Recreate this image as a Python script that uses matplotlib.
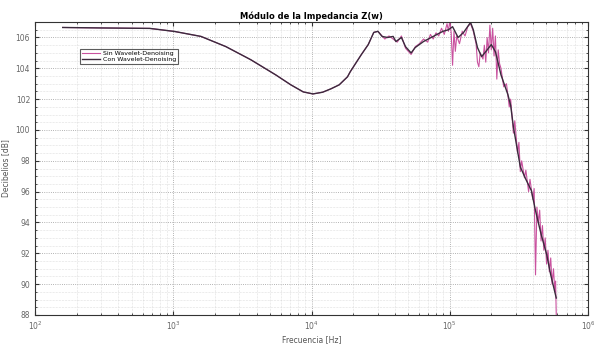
import numpy as np
import matplotlib.pyplot as plt
from matplotlib.ticker import LogLocator, MultipleLocator

# log10 of frequency [Hz] and module [dB], filtered response
con_logf = [2.20, 2.47, 2.83, 3.01, 3.20, 3.38, 3.56, 3.74, 3.85, 3.94, 4.01,
            4.08, 4.14, 4.20, 4.26, 4.28, 4.36, 4.41, 4.45, 4.48, 4.51, 4.55,
            4.59, 4.61, 4.65, 4.68, 4.72, 4.75, 4.81, 4.88, 4.95, 4.99, 5.02,
            5.06, 5.10, 5.15, 5.17, 5.20, 5.23, 5.26, 5.30, 5.33, 5.37, 5.42,
            5.44, 5.46, 5.51, 5.55, 5.59, 5.62, 5.66, 5.70, 5.73, 5.77]
con_db = [106.65, 106.62, 106.59, 106.39, 106.07, 105.41, 104.56, 103.58,
          102.93, 102.47, 102.34, 102.45, 102.67, 102.93, 103.45, 103.78,
          104.89, 105.54, 106.33, 106.40, 106.07, 106.00, 106.07, 105.74,
          106.00, 105.40, 105.00, 105.35, 105.74, 106.07, 106.40, 106.50,
          106.70, 106.00, 106.33, 106.98, 106.50, 105.35, 104.76, 105.08,
          105.54, 105.08, 103.58, 102.30, 101.60, 100.20, 97.60, 96.80,
          96.07, 94.76, 93.25, 91.95, 90.60, 89.10]

# raw response, without denoising
sin_logf = [2.20, 2.47, 2.83, 3.01, 3.20, 3.38, 3.56, 3.74, 3.85, 3.94, 4.01,
            4.08, 4.14, 4.20, 4.26, 4.28, 4.36, 4.41, 4.45, 4.48,
            4.50, 4.53, 4.56, 4.59, 4.62, 4.65, 4.68, 4.70, 4.72, 4.75, 4.78,
            4.81, 4.84, 4.86, 4.88, 4.90, 4.92, 4.94, 4.96, 4.98, 4.99, 5.00,
            5.01, 5.02, 5.03, 5.04, 5.05, 5.07, 5.09, 5.11, 5.13, 5.15, 5.17,
            5.19, 5.20, 5.21, 5.22, 5.24, 5.25, 5.26, 5.27, 5.28, 5.29, 5.30,
            5.31, 5.32, 5.33, 5.34, 5.35, 5.36, 5.37, 5.39, 5.41, 5.43, 5.44,
            5.46, 5.47, 5.49, 5.50, 5.51, 5.52, 5.54, 5.55, 5.57, 5.58, 5.60,
            5.61, 5.62, 5.63, 5.64, 5.65, 5.66, 5.67, 5.68, 5.69, 5.70, 5.71,
            5.72, 5.73, 5.74, 5.75, 5.76, 5.765, 5.77]
sin_db = [106.65, 106.62, 106.59, 106.39, 106.07, 105.41, 104.56, 103.58,
          102.93, 102.47, 102.34, 102.45, 102.67, 102.93, 103.45, 103.78,
          104.89, 105.54, 106.33, 106.40,
          106.20, 105.90, 106.10, 105.90, 105.70, 106.10, 105.30, 105.10,
          104.90, 105.40, 105.60, 105.90, 105.70, 106.20, 105.90, 106.30,
          106.10, 106.60, 106.20, 106.90, 106.40, 107.10, 106.30, 104.20,
          106.40, 105.10, 106.10, 105.60, 106.40, 106.10, 106.70, 106.90,
          106.40, 105.60, 104.40, 104.10, 105.00, 104.60, 105.50, 104.40,
          106.00, 105.00, 106.80, 105.20, 106.60, 104.80, 106.10, 103.30,
          105.20, 104.30, 104.00, 102.80, 103.00, 101.50, 102.00, 99.80,
          100.60, 98.50, 99.20, 97.30, 98.00, 96.90, 97.40, 96.00, 96.80,
          95.50, 96.20, 90.60, 95.00, 94.00, 94.80, 92.80, 93.80, 92.20,
          93.00, 91.30, 92.20, 90.80, 91.70, 90.00, 91.00, 89.50, 90.20,
          88.00]

sin_f = 10 ** np.array(sin_logf)
con_f = 10 ** np.array(con_logf)

fig = plt.figure(figsize=(5.94, 3.45), dpi=100)
ax = fig.add_axes([0.059, 0.087, 0.931, 0.849])

ax.semilogx(sin_f, sin_db, color='#c9529f', lw=0.8, label='Sin Wavelet-Denoising')
ax.semilogx(con_f, con_db, color='#3b2b3d', lw=1.0, label='Con Wavelet-Denoising')

ax.set_xlim(1e2, 1e6)
ax.set_ylim(88, 107)
ax.xaxis.set_major_locator(LogLocator(base=10, numticks=10))
ax.xaxis.set_minor_locator(LogLocator(base=10, subs=np.arange(2, 10), numticks=50))
ax.yaxis.set_major_locator(MultipleLocator(2))
ax.yaxis.set_minor_locator(MultipleLocator(0.5))

ax.grid(True, which='major', ls=':', lw=0.6, color='#9a9a9a')
ax.grid(True, which='minor', ls=':', lw=0.4, color='#c4c4c4')
ax.tick_params(which='both', direction='in', top=True, right=True,
               labelsize=5.5, labelcolor='#666666', color='#333333')
ax.tick_params(which='major', length=3)
ax.tick_params(which='minor', length=1.6)
for s in ax.spines.values():
    s.set_color('#333333')
    s.set_linewidth(0.8)

ax.set_title('Módulo de la Impedancia Z(w)', fontsize=6, fontweight='bold', pad=2)
ax.set_xlabel('Frecuencia [Hz]', fontsize=5.5, color='#555555', labelpad=2)
ax.set_ylabel('Decibelios [dB]', fontsize=5.5, color='#555555', labelpad=4)

leg = ax.legend(loc='upper left', bbox_to_anchor=(0.075, 0.92), fontsize=4.5,
                frameon=True, fancybox=False, edgecolor='#333333',
                handlelength=3, borderpad=0.3, labelspacing=0.15,
                handletextpad=0.4)
leg.get_frame().set_linewidth(0.8)

fig.savefig('out.png', dpi=100)
